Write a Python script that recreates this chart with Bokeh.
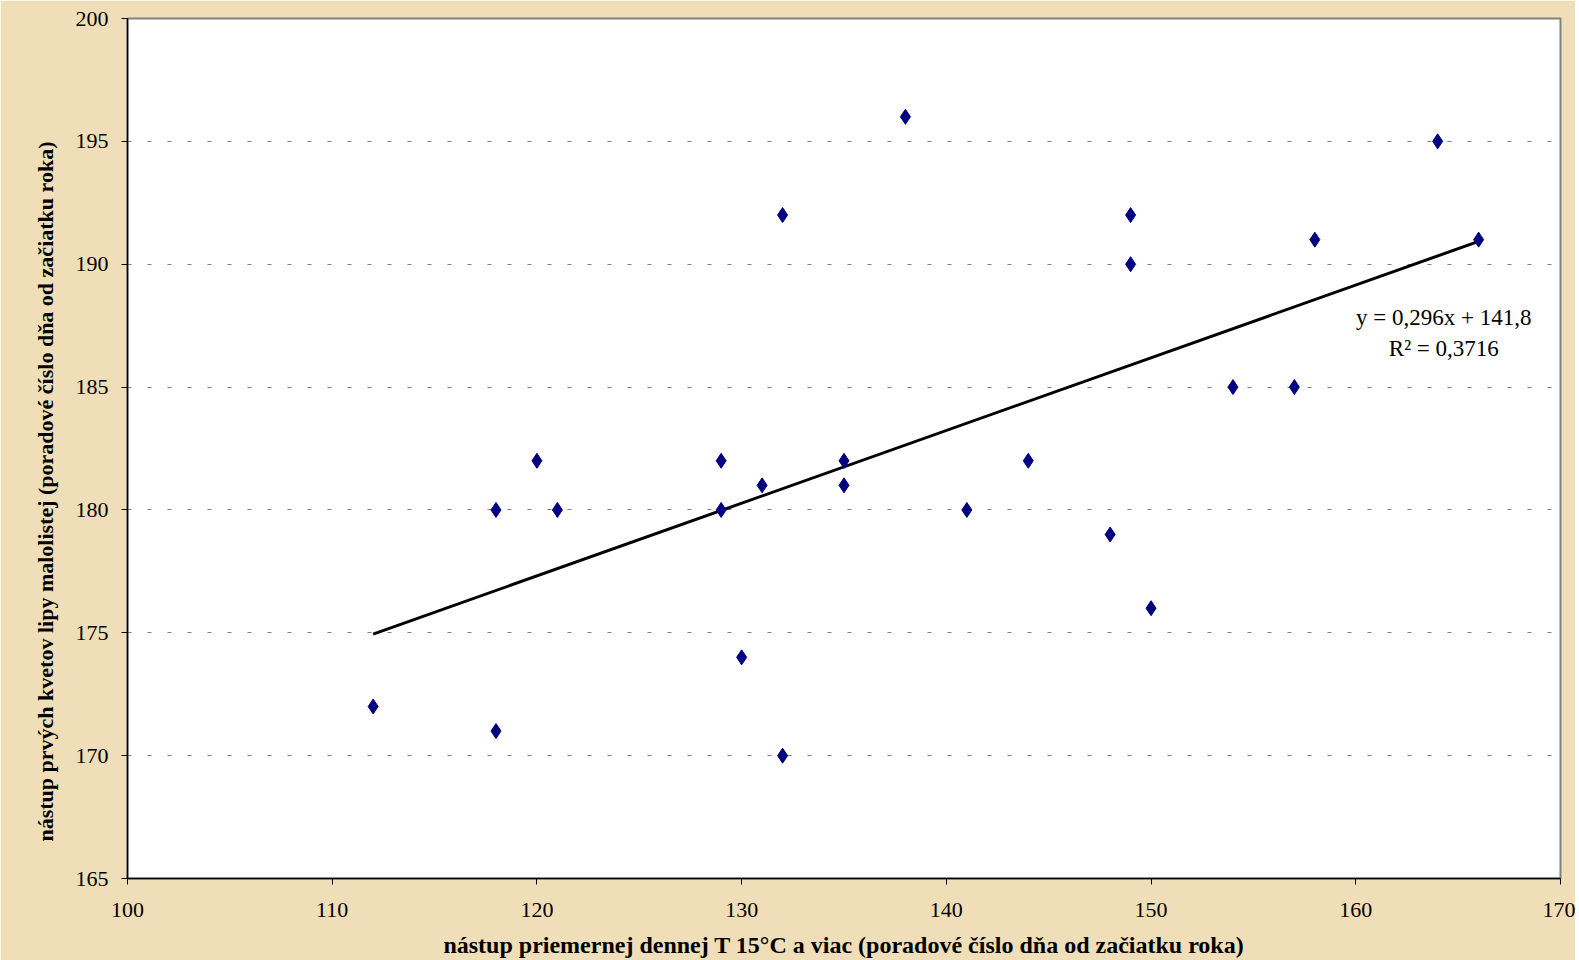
import numpy as np
from bokeh.plotting import figure
from bokeh.models import Range1d, FixedTicker, Label, Title
from bokeh.embed import file_html
from bokeh.resources import INLINE

# Data
x_vals = [112, 118, 118, 120, 121, 129, 129, 130, 131, 132, 132, 135, 135,
          138, 141, 144, 148, 149, 149, 150, 154, 157, 158, 164, 166]
y_vals = [172, 180, 171, 182, 180, 182, 180, 174, 181, 192, 170, 182, 181,
          196, 180, 182, 179, 192, 190, 176, 185, 185, 191, 195, 191]
x_ticks = [100, 110, 120, 130, 140, 150, 160, 170]
y_ticks = [165, 170, 175, 180, 185, 190, 195, 200]
grid_ticks = [170, 175, 180, 185, 190, 195]
eq_text = "y = 0,296x + 141,8"
r2_text = "R\u00b2 = 0,3716"
x_label = "nástup priemernej dennej T 15°C a viac (poradové číslo dňa od začiatku roka)"
y_label = "nástup prvých kvetov lipy malolistej (poradové číslo dňa od začiatku roka)"

bg = "#efdeb8"
serif = "Liberation Serif"
H = 960

p = figure(width=1575, height=H, output_backend="svg", toolbar_location=None,
           x_range=Range1d(100, 170), y_range=Range1d(165, 200),
           min_border_left=127, min_border_right=15, min_border_top=18,
           min_border_bottom=82)
p.border_fill_color = bg
p.background_fill_color = "white"
p.outline_line_color = "#808080"
p.outline_line_width = 2

# grid
p.xgrid.visible = False
p.ygrid.ticker = FixedTicker(ticks=grid_ticks)
p.ygrid.grid_line_color = "#808080"
p.ygrid.grid_line_dash = "4 16"
p.ygrid.grid_line_width = 1

for ax, ticks in ((p.xaxis[0], x_ticks), (p.yaxis[0], y_ticks)):
    ax.ticker = FixedTicker(ticks=ticks)
    ax.minor_tick_line_color = None
    ax.major_tick_in = 0
    ax.major_tick_out = 6
    ax.axis_line_color = "black"
    ax.axis_line_width = 1.5
    ax.major_tick_line_color = "black"
    ax.major_label_text_font = serif
    ax.major_label_text_font_size = "22px"
    ax.major_label_text_color = "black"
    ax.axis_label_text_font = serif
    ax.axis_label_text_font_style = "bold"
    ax.axis_label_text_color = "black"

p.xaxis.axis_label_text_font_size = "24px"
p.xaxis.major_label_standoff = 18
p.yaxis.major_label_standoff = 13
p.xaxis.axis_label = x_label
p.xaxis.axis_label_standoff = 12

# y axis title, placed as in the reference (a little below the frame centre)
p.add_layout(Title(text=y_label, align="left", offset=37, standoff=30,
                   text_font=serif, text_font_size="22px",
                   text_font_style="bold", text_color="black"), "left")

# trend line (least squares fit of the data)
slope, intercept = np.polyfit(x_vals, y_vals, 1)
tx = [min(x_vals), max(x_vals)]
ty = [slope * v + intercept for v in tx]
p.line(tx, ty, line_color="black", line_width=3)

# points
p.scatter(x_vals, y_vals, marker="diamond", size=15, fill_color="#000080",
          line_color="#000080")

p.add_layout(Label(x=164.3, y=187.85, text=eq_text, text_align="center",
                   text_baseline="middle", text_font=serif,
                   text_font_size="23px", text_color="black"))
p.add_layout(Label(x=164.3, y=186.55, text=r2_text, text_align="center",
                   text_baseline="middle", text_font=serif,
                   text_font_size="23px", text_color="black"))

open("out.html", "w").write(file_html(p, INLINE))
